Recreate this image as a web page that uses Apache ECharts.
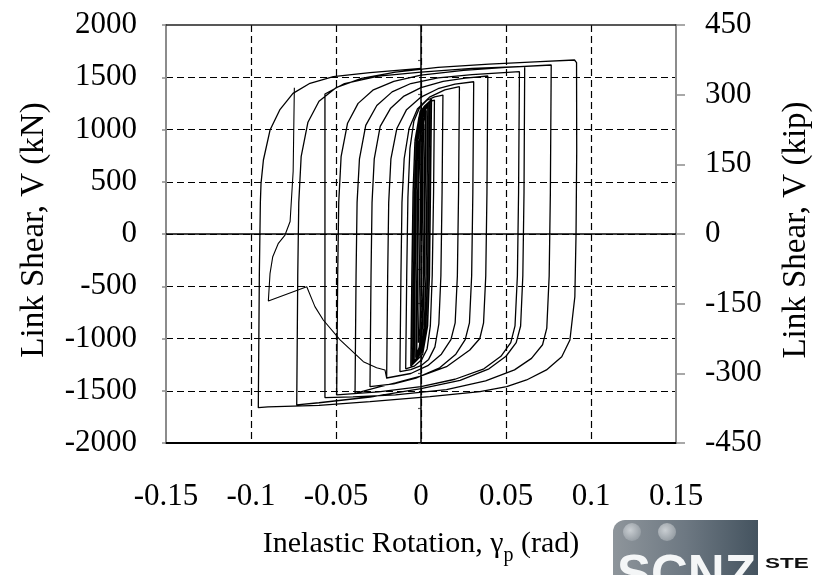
<!DOCTYPE html>
<html>
<head>
<meta charset="utf-8">
<script src="https://cdn.jsdelivr.net/npm/echarts@6/dist/echarts.min.js"></script>
<style>
  html, body { margin: 0; padding: 0; background: #fff; }
  #chart { width: 814px; height: 575px; }
</style>
</head>
<body>
<div id="chart"></div>
<script>
// axis ticks
const xTicks = [-0.15, -0.1, -0.05, 0, 0.05, 0.1, 0.15]
const xTickLabels = ['-0.15', '-0.1', '-0.05', '0', '0.05', '0.1', '0.15']
const kNTicks = [-2000, -1500, -1000, -500, 0, 500, 1000, 1500, 2000]
const kipTicks = [-450, -300, -150, 0, 150, 300, 450]

// hysteresis trace, [rotation (rad), shear (kN)]
const coreCycles = [
  [0.0000, 0], [0.0006, 600], [0.0012, 950], [0.0015, 1050], [0.0010, 400], [0.0004, -400], [-0.0005, -900], [-0.0015, -1040],
  [-0.0009, -400], [-0.0004, 400], [0.0005, 880], [0.0015, 1080], [0.0025, 1150], [0.0019, 400], [0.0014, -400], [0.0005, -880], [-0.0010, -1080], [-0.0025, -1150],
  [-0.0019, -400], [-0.0014, 400], [-0.0005, 880], [0.0012, 1120], [0.0030, 1180], [0.0024, 400], [0.0019, -400], [0.0010, -880], [-0.0010, -1110], [-0.0030, -1180],
  [-0.0024, -420], [-0.0018, 380], [-0.0008, 870], [0.0010, 1110], [0.0031, 1185], [0.0025, 420], [0.0020, -380], [0.0011, -870], [-0.0008, -1100], [-0.0031, -1185],
  [-0.0025, -400], [-0.0020, 400], [-0.0010, 880], [0.0010, 1130], [0.0040, 1230], [0.0034, 400], [0.0029, -400], [0.0019, -880], [-0.0002, -1120], [-0.0040, -1225],
  [-0.0034, -380], [-0.0028, 420], [-0.0017, 900], [0.0005, 1140], [0.0042, 1235], [0.0036, 420], [0.0030, -380], [0.0020, -870], [-0.0002, -1110], [-0.0042, -1230],
  [-0.0036, -400], [-0.0030, 400], [-0.0019, 890], [0.0005, 1150], [0.0050, 1260], [0.0044, 400], [0.0038, -400], [0.0027, -880], [0.0004, -1130], [-0.0048, -1240],
  [-0.0042, -400], [-0.0036, 400], [-0.0025, 890], [0.0000, 1150], [0.0052, 1265], [0.0046, 400], [0.0040, -400], [0.0029, -880], [0.0005, -1130], [-0.0050, -1245],
  [-0.0044, -400], [-0.0038, 400], [-0.0027, 900], [0.0000, 1170], [0.0060, 1285], [0.0054, 400], [0.0048, -400], [0.0037, -880], [0.0010, -1150], [-0.0058, -1260],
  [-0.0052, -400], [-0.0046, 400], [-0.0035, 900], [-0.0005, 1175], [0.0062, 1290], [0.0056, 400], [0.0050, -400], [0.0039, -880], [0.0010, -1150], [-0.0060, -1265],
]
const cycle2 = [
  [-0.0054, -400], [-0.0047, 400], [-0.0036, 880], [-0.0012, 1120], [0.0018, 1220], [0.0048, 1265], [0.0079, 1282],
  [0.0074, 400], [0.0066, -400], [0.0055, -880], [0.0036, -1100], [0.0005, -1200], [-0.0040, -1265], [-0.0090, -1290],
]
const cycle3 = [
  [-0.0084, -400], [-0.0077, 350], [-0.0065, 820], [-0.0042, 1080], [-0.0008, 1210], [0.0035, 1280], [0.0080, 1312], [0.0129, 1330],
  [0.0124, 400], [0.0117, -400], [0.0105, -860], [0.0082, -1080], [0.0045, -1200], [0.0000, -1260], [-0.0060, -1298], [-0.0124, -1317],
]
const cycle4 = [
  [-0.0118, -400], [-0.0112, 300], [-0.0099, 720], [-0.0070, 1010], [-0.0020, 1200], [0.0050, 1310], [0.0140, 1380], [0.0226, 1410],
  [0.0221, 400], [0.0214, -400], [0.0201, -850], [0.0176, -1010], [0.0120, -1150], [0.0040, -1260], [-0.0060, -1335], [-0.0202, -1378],
]
const cycle5 = [
  [-0.0196, -400], [-0.0190, 300], [-0.0177, 720], [-0.0142, 1010], [-0.0085, 1190], [0.0000, 1310], [0.0100, 1390], [0.0200, 1435], [0.0310, 1457],
  [0.0305, 400], [0.0298, -400], [0.0285, -850], [0.0260, -1010], [0.0205, -1150], [0.0110, -1280], [-0.0030, -1380], [-0.0160, -1435], [-0.0300, -1461],
]
const cycle6 = [
  [-0.0294, -400], [-0.0288, 300], [-0.0275, 720], [-0.0240, 1030], [-0.0180, 1200], [-0.0100, 1320], [0.0000, 1400], [0.0130, 1460], [0.0260, 1492], [0.0393, 1512],
  [0.0388, 400], [0.0381, -400], [0.0368, -850], [0.0346, -1000], [0.0287, -1110], [0.0150, -1270], [-0.0007, -1363], [-0.0150, -1425], [-0.0240, -1461], [-0.0388, -1524],
]
const cycle7 = [
  [-0.0382, -400], [-0.0376, 300], [-0.0362, 720], [-0.0325, 1040], [-0.0260, 1230], [-0.0170, 1360], [-0.0060, 1440], [0.0100, 1495], [0.0300, 1525], [0.0579, 1553],
  [0.0574, 400], [0.0567, -400], [0.0553, -880], [0.0528, -1040], [0.0470, -1170], [0.0370, -1290], [0.0200, -1390], [0.0000, -1460], [-0.0250, -1510], [-0.0496, -1540],
]
const cycle8 = [
  [-0.0490, -400], [-0.0484, 300], [-0.0470, 740], [-0.0432, 1060], [-0.0370, 1250], [-0.0280, 1380], [-0.0160, 1460], [0.0000, 1520], [0.0250, 1565], [0.0500, 1595], [0.0766, 1617],
  [0.0761, 400], [0.0754, -400], [0.0740, -900], [0.0715, -1060], [0.0650, -1190], [0.0550, -1300], [0.0380, -1405], [0.0150, -1490], [-0.0150, -1540], [-0.0400, -1558], [-0.0565, -1565],
  [-0.0565, 1340], [-0.0450, 1440], [-0.0250, 1510], [0.0000, 1550], [0.0300, 1585], [0.0610, 1605],
  [0.0606, 400], [0.0599, -400], [0.0586, -880], [0.0560, -1040], [0.0500, -1170], [0.0400, -1290], [0.0230, -1400], [0.0000, -1480], [-0.0300, -1560], [-0.0600, -1615], [-0.0731, -1636],
]
const cycle9 = [
  [-0.0725, -400], [-0.0719, 300], [-0.0705, 740], [-0.0665, 1070], [-0.0600, 1270], [-0.0500, 1400], [-0.0350, 1490], [-0.0150, 1550], [0.0100, 1595], [0.0400, 1625], [0.0700, 1650], [0.0903, 1665], [0.0915, 1640],
  [0.0916, 800], [0.0912, 0], [0.0905, -600], [0.0876, -1014], [0.0828, -1174], [0.0738, -1301], [0.0621, -1397], [0.0504, -1461], [0.0347, -1509], [0.0053, -1557], [-0.0300, -1605], [-0.0600, -1640], [-0.0900, -1655], [-0.0957, -1662],
]
const finalRise = [
  [-0.0951, -400], [-0.0945, 300], [-0.0941, 485], [-0.0927, 708], [-0.0888, 995], [-0.0831, 1187], [-0.0753, 1346], [-0.0653, 1442], [-0.0516, 1505], [-0.0300, 1545], [0.0000, 1585],
]
const failurePath = [
  [-0.0745, 1400], [-0.0752, 600], [-0.0770, 120], [-0.0800, -10], [-0.0839, -89], [-0.0872, -217], [-0.0888, -376], [-0.0898, -641],
  [-0.0672, -504], [-0.0624, -695], [-0.0575, -823], [-0.0476, -1014], [-0.0339, -1222], [-0.0261, -1279], [-0.0212, -1301], [-0.0202, -1381],
]

const hysteresis = [].concat(coreCycles, cycle2, cycle3, cycle4, cycle5, cycle6, cycle7, cycle8, cycle9, finalRise)

const serif = '"Liberation Serif", "Times New Roman", serif'
const sans = '"Liberation Sans", Arial, sans-serif'
const dash = [7, 4]

const chart = echarts.init(document.getElementById('chart'))

chart.setOption({
  backgroundColor: '#fff',
  animation: false,
  grid: { left: 166, right: 138, top: 25, bottom: 132, outerBoundsMode: 'none' },
  xAxis: [
    {
      type: 'value',
      position: 'bottom',
      min: xTicks[0],
      max: xTicks[xTicks.length - 1],
      interval: 0.05,
      axisLine: { onZero: false, lineStyle: { color: '#000', width: 2 } },
      axisTick: { show: false },
      axisLabel: {
        margin: 38,
        color: '#000',
        fontFamily: serif,
        fontSize: 31,
        formatter: (v) => xTickLabels[Math.round((v - xTicks[0]) / 0.05)],
      },
      splitLine: { show: true, showMinLine: false, showMaxLine: false, lineStyle: { color: '#000', type: dash, width: 1.2 } },
    },
    {
      type: 'value',
      position: 'top',
      min: xTicks[0],
      max: xTicks[xTicks.length - 1],
      axisLine: { onZero: false, lineStyle: { color: '#222', width: 1.5 } },
      axisTick: { show: false },
      axisLabel: { show: false },
      splitLine: { show: false },
    },
  ],
  yAxis: [
    {
      type: 'value',
      position: 'left',
      min: kNTicks[0],
      max: kNTicks[kNTicks.length - 1],
      interval: 500,
      axisLine: { show: true, onZero: false, lineStyle: { color: '#8c8c8c', width: 2 } },
      axisTick: { show: true, length: 4, lineStyle: { color: '#8c8c8c', width: 1.5 } },
      axisLabel: { margin: 29, color: '#000', fontFamily: serif, fontSize: 31, formatter: (v) => String(v) },
      splitLine: { show: true, showMinLine: false, showMaxLine: false, lineStyle: { color: '#000', type: dash, width: 1.2 } },
    },
    {
      type: 'value',
      position: 'right',
      min: kipTicks[0],
      max: kipTicks[kipTicks.length - 1],
      interval: 150,
      axisLine: { show: true, onZero: false, lineStyle: { color: '#8c8c8c', width: 2 } },
      axisTick: { show: true, length: 9, lineStyle: { color: '#8c8c8c', width: 1.5 } },
      axisLabel: { margin: 29, color: '#000', fontFamily: serif, fontSize: 31, formatter: (v) => String(v) },
      splitLine: { show: false },
    },
    {
      // minor ticks on the kip axis, pointing inward
      type: 'value',
      position: 'right',
      min: kipTicks[0],
      max: kipTicks[kipTicks.length - 1],
      interval: 75,
      axisLine: { show: false },
      axisTick: { show: true, inside: true, length: 3, lineStyle: { color: '#555', width: 1.2 } },
      axisLabel: { show: false },
      splitLine: { show: false },
    },
  ],
  series: [
    {
      type: 'line',
      data: hysteresis,
      showSymbol: false,
      lineStyle: { color: '#000', width: 1.3 },
      silent: true,
      markLine: {
        silent: true,
        symbol: 'none',
        label: { show: false },
        lineStyle: { color: '#000', type: 'solid', width: 1.5 },
        data: [{ xAxis: 0 }, { yAxis: 0 }],
      },
    },
    {
      type: 'line',
      data: failurePath,
      showSymbol: false,
      lineStyle: { color: '#000', width: 1.1 },
      silent: true,
    },
  ],
  graphic: [
    {
      type: 'text',
      x: 34, y: 230,
      rotation: Math.PI / 2,
      style: { text: 'Link Shear, V (kN)', fontFamily: serif, fontSize: 33, fill: '#000', align: 'center', verticalAlign: 'middle' },
    },
    {
      type: 'text',
      x: 796, y: 230,
      rotation: Math.PI / 2,
      style: { text: 'Link Shear, V (kip)', fontFamily: serif, fontSize: 33, fill: '#000', align: 'center', verticalAlign: 'middle' },
    },
    {
      type: 'text',
      x: 421, y: 529,
      style: {
        text: '{a|Inelastic Rotation, γ}{s|p}{a| (rad)}',
        align: 'center',
        verticalAlign: 'top',
        rich: {
          a: { fontFamily: serif, fontSize: 30, lineHeight: 36, verticalAlign: 'top', fill: '#000' },
          s: { fontFamily: serif, fontSize: 20, lineHeight: 20, verticalAlign: 'top', padding: [17, 0, 0, 0], fill: '#000' },
        },
      },
    },
    // SCNZ logo, partly cut off at the bottom edge
    {
      type: 'rect',
      shape: { x: 613, y: 520, width: 145, height: 60, r: [12, 0, 0, 0] },
      style: {
        fill: new echarts.graphic.LinearGradient(0, 0, 1, 0, [
          { offset: 0, color: '#8e959b' },
          { offset: 0.5, color: '#6d7882' },
          { offset: 1, color: '#44535f' },
        ]),
      },
    },
    {
      type: 'circle',
      shape: { cx: 632, cy: 532, r: 9 },
      style: { fill: new echarts.graphic.RadialGradient(0.4, 0.4, 0.7, [{ offset: 0, color: '#c9ced2' }, { offset: 1, color: '#8f979e' }]) },
    },
    {
      type: 'circle',
      shape: { cx: 667, cy: 532, r: 9 },
      style: { fill: new echarts.graphic.RadialGradient(0.4, 0.4, 0.7, [{ offset: 0, color: '#c9ced2' }, { offset: 1, color: '#8f979e' }]) },
    },
    {
      type: 'text',
      x: 617, y: 551,
      style: { text: 'SCNZ', fontFamily: sans, fontWeight: 'bold', fontSize: 51, fill: '#f4f6f7', align: 'left', verticalAlign: 'top' },
    },
    {
      type: 'text',
      x: 765, y: 556,
      scaleX: 1.5,
      style: { text: 'STE', fontFamily: sans, fontWeight: 'bold', fontSize: 15, fill: '#111', align: 'left', verticalAlign: 'top' },
    },
  ],
})
</script>
</body>
</html>
